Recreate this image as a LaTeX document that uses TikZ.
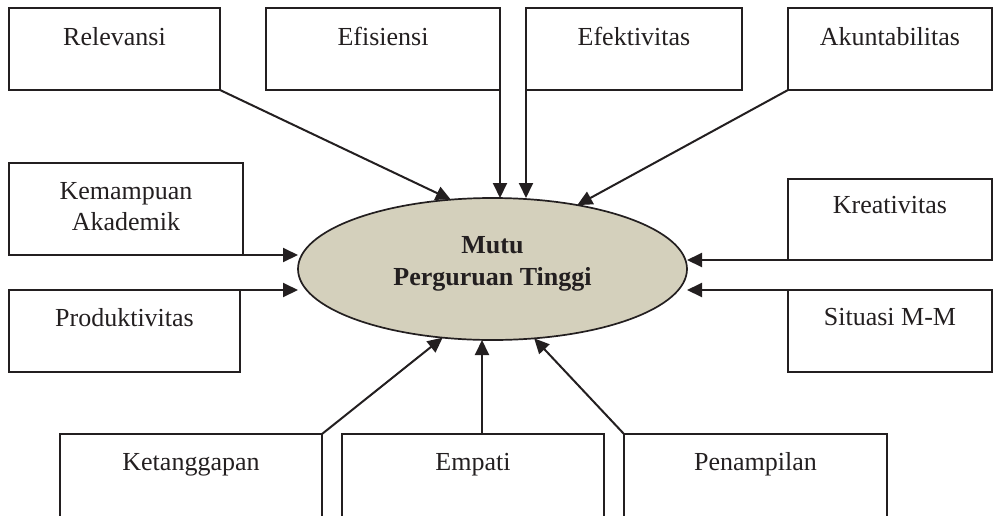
\documentclass[tikz,border=0pt]{standalone}
\usepackage{fontspec}
\setmainfont{Liberation Serif}
\usetikzlibrary{arrows.meta,calc,shapes.geometric}
\definecolor{ink}{HTML}{231F20}
\definecolor{ovalfill}{HTML}{D4D0BC}

\begin{document}
\begin{tikzpicture}[x=1pt,y=-1pt,
  box/.style={draw=ink, line width=1.7pt, inner sep=0pt, outer sep=0pt, rectangle},
  lbl/.style={anchor=base, inner sep=0pt, font=\fontsize{26}{31}\selectfont, text=ink},
  link/.style={draw=ink, line width=2pt, -{Triangle[length=15pt,width=14pt]}},
]
\clip (0,0) rectangle (993,515);

% factor boxes
\node[box, minimum width=211pt, minimum height=82pt] (rel) at (114.5,49) {};
\node[box, minimum width=234pt, minimum height=82pt] (efi) at (383,49) {};
\node[box, minimum width=216pt, minimum height=82pt] (efe) at (634,49) {};
\node[box, minimum width=204pt, minimum height=82pt] (aku) at (890,49) {};
\node[box, minimum width=234pt, minimum height=92pt] (kem) at (126,209) {};
\node[box, minimum width=231pt, minimum height=82pt] (prod) at (124.5,331) {};
\node[box, minimum width=204pt, minimum height=81pt] (kre) at (890,219.5) {};
\node[box, minimum width=204pt, minimum height=82pt] (sit) at (890,331) {};
\node[box, minimum width=262pt, minimum height=96pt] (ket) at (191,482) {};
\node[box, minimum width=262pt, minimum height=96pt] (emp) at (473,482) {};
\node[box, minimum width=263pt, minimum height=96pt] (pen) at (755.5,482) {};

% box labels
\node[lbl] (relT) at ([yshift=-37pt]rel.north) {Relevansi};
\node[lbl] (efiT) at ([yshift=-37pt]efi.north) {Efisiensi};
\node[lbl] (efeT) at ([yshift=-37pt]efe.north) {Efektivitas};
\node[lbl] (akuT) at ([yshift=-37pt]aku.north) {Akuntabilitas};
\node[lbl, align=center, anchor=north] (kemT) at ([yshift=-19pt]kem.north) {Kemampuan\\Akademik};
\node[lbl] (prodT) at ([yshift=-36pt]prod.north) {Produktivitas};
\node[lbl] (kreT) at ([yshift=-34pt]kre.north) {Kreativitas};
\node[lbl] (sitT) at ([yshift=-35pt]sit.north) {Situasi M-M};
\node[lbl] (ketT) at ([yshift=-36pt]ket.north) {Ketanggapan};
\node[lbl] (empT) at ([yshift=-36pt]emp.north) {Empati};
\node[lbl] (penT) at ([yshift=-36pt]pen.north) {Penampilan};

% central oval and its caption
\node[ellipse, draw=ink, line width=1.7pt, fill=ovalfill, inner sep=0pt, outer sep=0pt,
      minimum width=389pt, minimum height=142pt] (mutu) at (492.5,269) {};
\node[align=center, inner sep=0pt, font=\fontsize{26}{31.5}\selectfont\bfseries, text=ink]
      (mutuT) at ([yshift=5pt]mutu.center) {Mutu\\Perguruan Tinggi};

% connectors into the oval
\draw[link] (rel.south east) -- (mutu.121.5);
\draw[link] (efi.south east) -- (efi.south east |- mutu.north);
\draw[link] (efe.south west) -- (efe.south west |- mutu.north);
\draw[link] (aku.south west) -- (mutu.37.9);
\draw[link] (kem.south east) -- (kem.south east -| mutu.west);
\draw[link] (prod.north east) -- (prod.north east -| mutu.west);
\draw[link] (kre.south west) -- (kre.south west -| mutu.east);
\draw[link] (sit.north west) -- (sit.north west -| mutu.east);
\draw[link] (ket.north east) -- (mutu.234.2);
\draw[link] ([xshift=9pt]emp.north) -- ([xshift=9pt]emp.north |- mutu.south);
\draw[link] (pen.north west) -- (mutu.301.5);
\end{tikzpicture}
\end{document}
